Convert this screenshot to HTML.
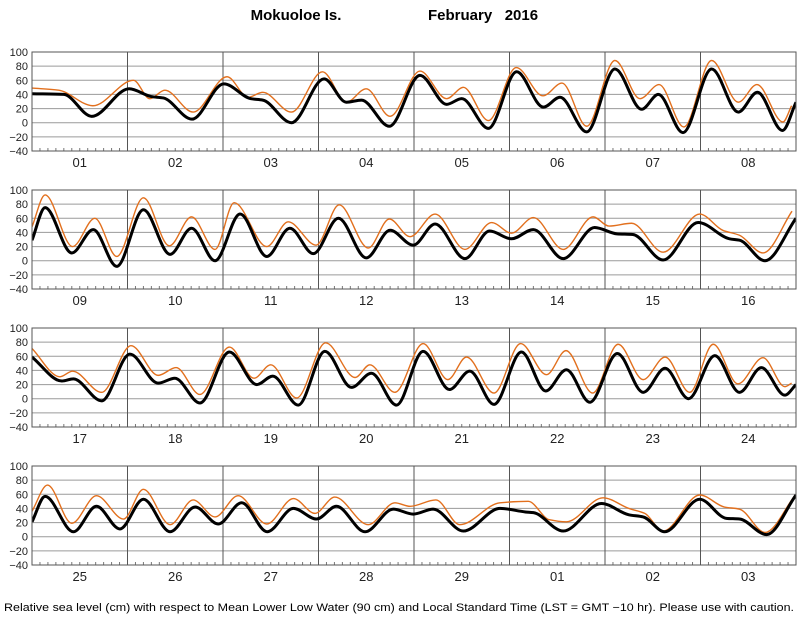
<!DOCTYPE html>
<html><head><meta charset="utf-8"><title>Mokuoloe Is. February 2016</title>
<style>html,body{margin:0;padding:0;background:#fff}svg{display:block;font-family:"Liberation Sans",Arial,sans-serif}</style>
</head><body>
<svg id="chart" width="800" height="618" viewBox="0 0 800 618" xmlns="http://www.w3.org/2000/svg">
<text x="296" y="20" text-anchor="middle" font-size="15" font-weight="bold">Mokuoloe Is.</text>
<text x="428" y="20" font-size="15" font-weight="bold" xml:space="preserve">February   2016</text>
<text x="4" y="611" font-size="11" textLength="790" lengthAdjust="spacingAndGlyphs">Relative sea level (cm) with respect to Mean Lower Low Water (90 cm) and Local Standard Time (LST = GMT −10 hr). Please use with caution.</text>
</svg>
<script>
const yTicks = [100, 80, 60, 40, 20, 0, -20, -40];
const yTickLabels = ["100", "80", "60", "40", "20", "0", "\u221220", "\u221240"];
const dayLabels1 = ["01","02","03","04","05","06","07","08"];
const dayLabels2 = ["09","10","11","12","13","14","15","16"];
const dayLabels3 = ["17","18","19","20","21","22","23","24"];
const dayLabels4 = ["25","26","27","28","29","01","02","03"];
// [hour from panel start, cm]
const pred1 = [[0,41],[8,40],[15,9],[24.4,48],[30,37],[33,35],[40.2,5],[48.2,55],[55,34],[58,32],[65.2,0],[73.4,62],[79,29],[82.8,32],[89.8,-5],[97.5,67],[104.2,26],[108,34],[114.7,-8],[121.8,72],[128.5,22],[132.7,36],[139.4,-13],[146.5,76],[153.2,19],[157.4,40],[163.6,-14],[170.8,76],[177.5,15],[182.3,43],[188.6,-11],[192,29]];
const obs1 = [[0,49],[6.7,46],[15.3,24],[25.5,60],[29.6,34],[33.4,46],[40.5,15],[49,65],[54.3,36],[58,43],[65.2,15],[73,72],[79,29],[84,48],[90,9],[97.5,73],[104.2,34],[108.4,50],[114.7,3],[121.7,78],[128.4,38],[133.2,56],[139.4,-5],[146.5,88],[152.8,34],[157.6,54],[163.8,-6],[170.8,88],[177.5,29],[182.2,54],[188.7,1],[190.9,24]];
const pred2 = [[0,29],[3.3,75],[10,11],[15.4,44],[21.3,-8],[28,72],[34.7,9],[40.1,46],[46,0],[52.3,66],[59,6],[64.8,46],[70.7,10],[77,60],[84,4],[90,43],[95.8,22],[101.3,52],[108.8,3],[115,42],[120.5,31],[126,44],[133.5,3],[141.4,47],[147,38],[151,37],[158.6,1],[167.4,54],[175.3,31],[177.8,29],[184.2,0],[192,60]];
const obs2 = [[0,48],[3.3,93],[10.2,20],[15.8,60],[21.3,6],[28,89],[34.5,21],[40.1,62],[46,16],[50.8,82],[59,20],[64.4,55],[71.4,22],[77.2,79],[84.5,18],[89.8,59],[95,34],[101.3,66],[108.8,16],[115.5,54],[120.5,39],[126,61],[133.5,16],[141,62],[145,49],[150.7,53],[158.6,12],[167.8,66],[173.6,43],[177.8,36],[183.7,11],[191,70]];
const pred3 = [[0,59],[7.5,25],[10.4,28],[17.5,-3],[24.6,63],[31.7,22],[35.9,29],[42.2,-6],[49.6,66],[56.5,20],[60.5,32],[66.9,-9],[73.6,67],[80.3,16],[85.3,36],[91.6,-9],[98.3,67],[104.9,13],[110,39],[116.1,-8],[123,66],[129.1,11],[134.3,41],[140.2,-5],[147.1,64],[153.6,9],[159.1,43],[165,0],[171.6,61],[177.8,9],[183.3,44],[189.2,5],[192,20]];
const obs3 = [[0,71],[7,31],[10.2,39],[17.5,9],[24.9,75],[31.7,33],[36.2,44],[42.2,6],[49.6,73],[55.8,29],[60,48],[66.5,1],[73.8,79],[81.2,30],[84.9,48],[91.2,9],[98.3,78],[104.5,27],[109.2,59],[116.1,8],[122.8,78],[129.3,34],[134.2,68],[140.9,8],[147.3,77],[153.6,27],[159.1,59],[165.3,9],[171.2,77],[177.4,21],[183.7,58],[189.2,17],[190.9,22]];
const pred4 = [[0,21],[3.3,57],[10.4,7],[16.2,43],[22.1,11],[28,53],[34.7,7],[41,42],[46.8,18],[52.7,48],[59.1,7],[65.7,40],[71.5,25],[76.5,43],[83.7,7],[90.8,39],[95.8,32],[100.8,39],[108.4,8],[117.6,40],[124,35],[126,34],[133.5,8],[143.1,47],[150,31],[153.6,28],[159,7],[167.8,53],[174.5,26],[177.8,25],[184.6,3],[192,59]];
const obs4 = [[0,36],[3.9,73],[10,19],[16.2,58],[23,25],[28,67],[34.7,17],[40.5,52],[46,28],[51.8,58],[59,18],[65.7,54],[71.1,33],[76.1,56],[84.5,17],[91.2,48],[95,43],[101.5,52],[107.5,17],[117.6,48],[124.7,50],[130,24],[134.3,21],[143.5,55],[150,40],[154,33],[158.6,8],[167.8,59],[174,42],[177.8,39],[184.2,6],[191.7,58]];

const panels = [
  {labels: dayLabels1, pred: pred1, obs: obs1},
  {labels: dayLabels2, pred: pred2, obs: obs2},
  {labels: dayLabels3, pred: pred3, obs: obs3},
  {labels: dayLabels4, pred: pred4, obs: obs4}
];
const NS = "http://www.w3.org/2000/svg";
const svg = document.getElementById("chart");
const X0 = 32, X1 = 796, H = 99, HOURS = 192;
const TOPS = [52, 190, 328, 466];
function mk(tag, attrs, parent) {
  const e = document.createElementNS(NS, tag);
  for (const k in attrs) e.setAttribute(k, attrs[k]);
  (parent || svg).appendChild(e);
  return e;
}
function monotonePath(pts) {
  const n = pts.length, xs = pts.map(p => p[0]), ys = pts.map(p => p[1]);
  const d = [], m = new Array(n);
  for (let i = 0; i < n - 1; i++) d.push((ys[i+1]-ys[i])/(xs[i+1]-xs[i]));
  m[0] = d[0]; m[n-1] = d[n-2];
  for (let i = 1; i < n - 1; i++) {
    if (d[i-1]*d[i] <= 0) m[i] = 0;
    else { const h0 = xs[i]-xs[i-1], h1 = xs[i+1]-xs[i];
      m[i] = 3*(h0+h1)/((2*h1+h0)/d[i-1] + (h1+2*h0)/d[i]); }
  }
  let s = "M" + xs[0].toFixed(2) + "," + ys[0].toFixed(2);
  for (let i = 0; i < n - 1; i++) {
    const h = (xs[i+1]-xs[i])/3;
    s += "C" + (xs[i]+h).toFixed(2) + "," + (ys[i]+m[i]*h).toFixed(2) + " " +
         (xs[i+1]-h).toFixed(2) + "," + (ys[i+1]-m[i+1]*h).toFixed(2) + " " +
         xs[i+1].toFixed(2) + "," + ys[i+1].toFixed(2);
  }
  return s;
}
const defs = mk("defs", {});
panels.forEach((p, pi) => {
  const top = TOPS[pi];
  const xS = h => X0 + (X1 - X0) * h / HOURS;
  const yS = v => top + (100 - v) / 140 * H;
  const g = mk("g", {});
  
  
  const cp = mk("clipPath", {id: "clip" + pi}, defs);
  mk("rect", {x: X0, y: top, width: X1 - X0, height: H}, cp);
  yTicks.forEach((v, i) => {
    if (v !== 100 && v !== -40) {
      const gl = mk("line", {x1: X0, x2: X1, y1: yS(v), y2: yS(v), stroke: "#9a9a9a", "stroke-width": 1}, g);
      
      
    }
    const t = mk("text", {x: 28, y: yS(v) + 4, "text-anchor": "end", "font-size": 11, fill: "#222"}, g);
    t.textContent = yTickLabels[i];
    
    
  });
  for (let h = 2; h < HOURS; h += 2) {
    const tk = mk("line", {x1: xS(h), x2: xS(h), y1: top + H, y2: top + H - (h % 24 === 0 ? H : 3), stroke: h % 24 === 0 ? "#555" : "#777", "stroke-width": 1}, g);
    
    
  }
  p.labels.forEach((lab, i) => {
    const t = mk("text", {x: xS(i * 24 + 12), y: top + H + 16, "text-anchor": "middle", "font-size": 13, fill: "#222"}, g);
    t.textContent = lab;
    
    
  });
  const obsPath = mk("path", {d: monotonePath(p.obs.map(q => [xS(q[0]), yS(q[1])])), fill: "none", stroke: "#e2701e", "stroke-width": 1.4, "clip-path": "url(#clip" + pi + ")"}, g);
  
  
  const predPath = mk("path", {d: monotonePath(p.pred.map(q => [xS(q[0]), yS(q[1])])), fill: "none", stroke: "#000", "stroke-width": 3, "clip-path": "url(#clip" + pi + ")"}, g);
  
  
  const fr = mk("rect", {x: X0, y: top, width: X1 - X0, height: H, fill: "none", stroke: "#555", "stroke-width": 1}, g);
  
  
});
</script>
</body></html>
